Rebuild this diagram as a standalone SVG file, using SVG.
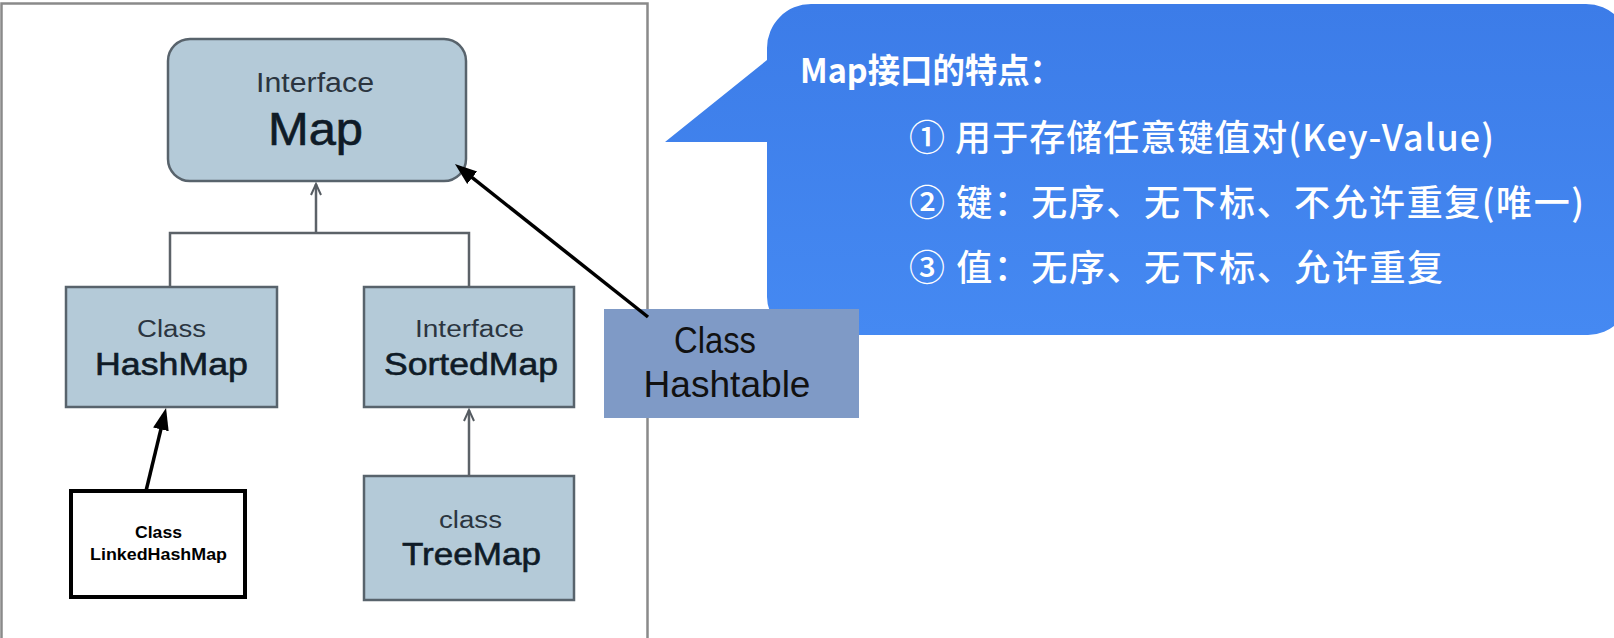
<svg xmlns="http://www.w3.org/2000/svg" width="1614" height="638" viewBox="0 0 1614 638">
  <style>
    .box { fill: #b4cad8; stroke: #58636c; stroke-width: 2.5; }
    .lbl { font-family: "Liberation Sans", Arial, sans-serif; text-anchor: middle; }
    .small { font-size: 23px; fill: #2b3540; }
    .big { font-size: 32px; fill: #0f1b27; stroke: #0f1b27; stroke-width: 0.6; }
    .lhm { font-family: "Liberation Sans", Arial, sans-serif; font-weight: bold; font-size: 17px; fill: #000; text-anchor: middle; }
    .tree { fill: none; stroke: #5c6268; stroke-width: 2.5; }
    .black { fill: none; stroke: #000; stroke-width: 3.5; }
    .cn { font-family: "Noto Sans CJK SC", "Noto Sans", sans-serif; fill: #ffffff; }
    .ht { font-family: "Liberation Sans", Arial, sans-serif; font-size: 36px; fill: #111; text-anchor: middle; }
  </style>
  <defs>
    <marker id="openArrow" markerUnits="userSpaceOnUse" markerWidth="14" markerHeight="14" viewBox="0 0 14 14" refX="12" refY="7" orient="auto">
      <path d="M1,2 L12,7 L1,12" fill="none" stroke="#555b61" stroke-width="2"/>
    </marker>
    <marker id="solidArrow" markerUnits="userSpaceOnUse" markerWidth="24" markerHeight="18" viewBox="0 0 24 18" refX="12" refY="9" orient="auto">
      <path d="M0,1 L22,9 L0,17 Z" fill="#000"/>
    </marker>
    <linearGradient id="bubbleGrad" x1="0" y1="0" x2="0" y2="1">
      <stop offset="0" stop-color="#3c7ce8"/>
      <stop offset="1" stop-color="#4589f2"/>
    </linearGradient>
  </defs>

  <rect x="0" y="0" width="1614" height="638" fill="#ffffff"/>

  <!-- frame -->
  <polyline points="1.5,638 1.5,3.5 647.5,3.5 647.5,638" fill="none" stroke="#8a8a8a" stroke-width="2.5"/>

  <!-- callout bubble -->
  <g id="callout">
    <path d="M767,60 L665,142 L767,142 L767,297 A38,38 0 0 0 805,335 L1588,335 A42,42 0 0 0 1630,293 L1630,48 A44,44 0 0 0 1586,4 L811,4 A44,44 0 0 0 767,48 Z" fill="url(#bubbleGrad)"/>
    <text class="cn" x="800" y="83" font-size="34" font-weight="bold" textLength="262" lengthAdjust="spacingAndGlyphs">Map接口的特点：</text>
    <text class="cn" x="909" y="151" font-size="36" font-weight="500" textLength="585" lengthAdjust="spacing">① 用于存储任意键值对(Key-Value)</text>
    <text class="cn" x="909" y="216" font-size="36" font-weight="500" textLength="675" lengthAdjust="spacing">② 键：无序、无下标、不允许重复(唯一)</text>
    <text class="cn" x="909" y="281" font-size="36" font-weight="500" textLength="534" lengthAdjust="spacing">③ 值：无序、无下标、允许重复</text>
  </g>

  <g id="node-map">
    <rect class="box" x="168" y="39" width="298" height="142" rx="22"/>
    <text class="lbl" x="315" y="92" font-size="27" fill="#2b3540" textLength="118" lengthAdjust="spacingAndGlyphs">Interface</text>
    <text class="lbl" x="315.5" y="145" font-size="46" fill="#0f1b27" stroke="#0f1b27" stroke-width="0.6" textLength="95" lengthAdjust="spacingAndGlyphs">Map</text>
  </g>

  <g id="node-hashmap">
    <rect class="box" x="66" y="287" width="211" height="120"/>
    <text class="lbl small" x="171.5" y="337" textLength="69" lengthAdjust="spacingAndGlyphs">Class</text>
    <text class="lbl big" x="171.5" y="375" textLength="153" lengthAdjust="spacingAndGlyphs">HashMap</text>
  </g>

  <g id="node-sortedmap">
    <rect class="box" x="364" y="287" width="210" height="120"/>
    <text class="lbl small" x="469.5" y="337" textLength="109" lengthAdjust="spacingAndGlyphs">Interface</text>
    <text class="lbl big" x="471" y="375" textLength="174" lengthAdjust="spacingAndGlyphs">SortedMap</text>
  </g>

  <g id="node-treemap">
    <rect class="box" x="364" y="476" width="210" height="124"/>
    <text class="lbl small" x="470.5" y="528" textLength="63" lengthAdjust="spacingAndGlyphs">class</text>
    <text class="lbl big" x="471.5" y="565" textLength="139" lengthAdjust="spacingAndGlyphs">TreeMap</text>
  </g>

  <g id="node-linkedhashmap">
    <rect x="71" y="491" width="174" height="106" fill="#ffffff" stroke="#000" stroke-width="4"/>
    <text class="lhm" x="158.5" y="538" textLength="47" lengthAdjust="spacingAndGlyphs">Class</text>
    <text class="lhm" x="158.5" y="560" textLength="137" lengthAdjust="spacingAndGlyphs">LinkedHashMap</text>
  </g>

  <g id="node-hashtable">
    <rect x="604" y="309" width="255" height="109" fill="#7f9ac6"/>
    <text class="ht" x="715" y="353" textLength="82" lengthAdjust="spacingAndGlyphs">Class</text>
    <text class="ht" x="727" y="397" textLength="167" lengthAdjust="spacingAndGlyphs">Hashtable</text>
  </g>

  <g id="connectors">
    <path class="tree" d="M316,233 V184" marker-end="url(#openArrow)"/>
    <path class="tree" d="M170,287 V233 H469 V287"/>
    <path class="tree" d="M469,476 V410" marker-end="url(#openArrow)"/>
    <line class="black" x1="146" y1="491" x2="163.7" y2="417.7" marker-end="url(#solidArrow)"/>
    <line class="black" x1="648" y1="317" x2="462.8" y2="170.2" marker-end="url(#solidArrow)"/>
  </g>
</svg>
